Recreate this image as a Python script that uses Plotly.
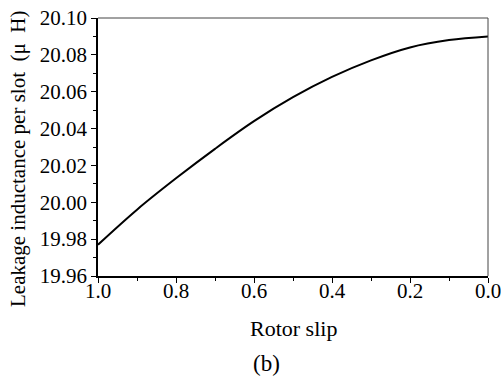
import plotly.graph_objects as go

slip = [1.0, 0.9, 0.8, 0.7, 0.6, 0.5, 0.4, 0.3, 0.2, 0.1, 0.0]
inductance = [19.977, 19.996, 20.013, 20.029, 20.044, 20.057, 20.068, 20.077, 20.084, 20.088, 20.090]

x_ticks = [1.0, 0.8, 0.6, 0.4, 0.2, 0.0]
x_labels = ["1.0", "0.8", "0.6", "0.4", "0.2", "0.0"]
y_ticks = [19.96, 19.98, 20.00, 20.02, 20.04, 20.06, 20.08, 20.10]
y_labels = ["19.96", "19.98", "20.00", "20.02", "20.04", "20.06", "20.08", "20.10"]

FONT = "Liberation Serif, Times New Roman, serif"

L, R, T, B = 98, 13, 18, 103
W, H = 501, 379
PW, PH = W - L - R, H - T - B


def px_x(x):
    return (x - L) / PW


def px_y(y):
    return (H - B - y) / PH


fig = go.Figure()
fig.add_trace(go.Scatter(x=slip, y=inductance, mode="lines",
                         line=dict(color="black", width=2, shape="spline"),
                         showlegend=False, hoverinfo="skip"))

axis_common = dict(showgrid=False, zeroline=False, showline=True, linecolor="black",
                   linewidth=1.6, mirror=False, ticks="outside", ticklen=5, tickcolor="black",
                   tickwidth=1, automargin=False, ticklabeloverflow="allow",
                   tickfont=dict(family=FONT, size=21, color="black"))

fig.update_layout(
    width=W, height=H,
    margin=dict(l=L, r=R, t=T, b=B, pad=0),
    paper_bgcolor="white", plot_bgcolor="white",
    font=dict(family=FONT, size=21, color="black"),
    xaxis=dict(range=[1.0, 0.0], tickvals=x_ticks, ticktext=x_labels,
               ticklabelstandoff=-10,
               minor=dict(dtick=0.1, ticks="outside", ticklen=3, tickcolor="black"),
               **axis_common),
    yaxis=dict(range=[19.96, 20.10], tickvals=y_ticks, ticktext=y_labels,
               minor=dict(dtick=0.01, ticks="outside", ticklen=3, tickcolor="black"),
               **axis_common),
    shapes=[
        dict(type="line", xref="paper", yref="paper", x0=0, x1=1, y0=1, y1=1,
             line=dict(color="#444444", width=1)),
        dict(type="line", xref="paper", yref="paper", x0=1, x1=1, y0=0, y1=1,
             line=dict(color="#444444", width=1)),
    ],
    annotations=[
        dict(text="Rotor slip", xref="paper", yref="paper", x=px_x(293), y=px_y(328),
             showarrow=False, xanchor="center", yanchor="middle",
             font=dict(family=FONT, size=22)),
        dict(text="(b)", xref="paper", yref="paper", x=px_x(266), y=px_y(363),
             showarrow=False, xanchor="center", yanchor="middle",
             font=dict(family=FONT, size=23)),
        dict(text="Leakage inductance per slot  (μ  H)", xref="paper", yref="paper",
             x=px_x(18), y=px_y(159), textangle=-90, showarrow=False,
             xanchor="center", yanchor="middle", font=dict(family=FONT, size=21)),
    ],
)

fig.write_html("out.html", config={"displayModeBar": False},
               post_script="document.body.style.margin='0';document.body.style.padding='0';")
